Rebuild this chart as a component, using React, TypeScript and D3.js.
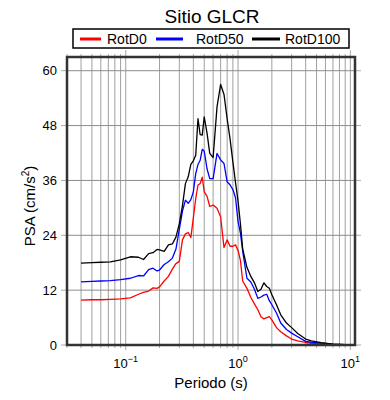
import React from 'react';
import * as d3 from 'd3';

// periodos (s) y ordenadas espectrales (cm/s2)
const periods = [
  0.04, 0.05, 0.06, 0.073, 0.09, 0.11, 0.13, 0.144, 0.16, 0.175, 0.19, 0.2, 0.22, 0.24, 0.26, 0.28,
  0.3, 0.32, 0.34, 0.36, 0.38, 0.4, 0.42, 0.44, 0.46, 0.48, 0.5, 0.53, 0.56, 0.6, 0.65, 0.7,
  0.75, 0.8, 0.85, 0.9, 0.95, 1.0, 1.05, 1.1, 1.2, 1.3, 1.4, 1.5, 1.6, 1.7, 1.8, 1.9,
  2.0, 2.2, 2.4, 2.7, 3.0, 3.4, 4.0, 4.5, 5.5, 7.0, 9.0, 10.7,
];
const rotD100 = [
  17.9, 18.0, 18.1, 18.2, 18.6, 19.3, 19.2, 18.7, 20.0, 20.2, 20.9, 20.8, 20.5, 21.9, 22.1, 23.6,
  26.5, 30.5, 35.3, 36.8, 39.5, 40.3, 41.5, 49.5, 46.0, 45.9, 49.9, 46.3, 41.9, 41.0, 52.1, 57.0,
  54.8, 49.5, 45.0, 40.0, 35.5, 31.5, 26.5, 21.0, 17.0, 15.0, 13.6, 11.7, 12.2, 13.6, 12.8, 12.4,
  11.0, 8.8, 6.6, 4.8, 3.8, 2.5, 1.3, 0.9, 0.5, 0.2, 0.08, 0.02,
];
const rotD50 = [
  13.8, 13.9, 14.0, 14.1, 14.3, 14.6, 15.2, 15.1, 16.5, 16.8, 16.2, 16.4, 17.6, 18.2, 19.0, 21.0,
  25.3, 29.3, 31.7, 31.0, 31.8, 33.5, 37.5, 39.5, 40.4, 42.8, 42.4, 38.5, 36.4, 36.4, 41.9, 40.5,
  39.7, 35.7, 35.0, 34.0, 32.2, 27.0, 24.5, 20.5, 14.6, 13.8, 12.2, 10.2, 10.5, 10.9, 11.1, 9.7,
  8.8, 7.0, 4.8, 3.4, 2.6, 1.8, 0.8, 0.6, 0.4, 0.18, 0.08, 0.02,
];
const rotD0 = [
  9.8, 9.9, 9.9, 10.0, 10.1, 10.3, 11.1, 11.5, 11.8, 12.5, 12.4, 12.7, 14.0, 15.0, 16.6, 17.8,
  18.3, 23.0, 24.3, 24.6, 23.5, 27.8, 32.0, 35.0, 35.3, 36.7, 33.5, 32.5, 30.3, 30.6, 29.9, 28.0,
  21.3, 23.0, 21.6, 21.6, 21.9, 20.7, 18.5, 14.0, 12.4, 10.4, 9.0, 7.7, 6.2, 5.7, 6.0, 6.2,
  5.5, 3.8, 2.9, 2.0, 1.3, 0.9, 0.55, 0.35, 0.25, 0.15, 0.05, 0.02,
];
const seriesNames = ['RotD0', 'RotD50', 'RotD100'];
const seriesColors = ['#ff0000', '#0000ff', '#000000'];
const yTicks = [0, 12, 24, 36, 48, 60];
const xMajor = [0.1, 1, 10];
const xMajorExp = ['\u22121', '0', '1'];

const W = 390;
const H = 400;
const margin = { top: 57, right: 35, bottom: 55, left: 67 };
const font = 'Liberation Sans, Arial, Helvetica, sans-serif';

const App: React.FC = () => {
  const x = d3.scaleLog().domain([0.03, 11]).range([margin.left, W - margin.right]);
  const y = d3.scaleLinear().domain([0, 63]).range([H - margin.bottom, margin.top]);
  const x0 = margin.left, x1 = W - margin.right, y0 = H - margin.bottom, y1 = margin.top;

  // rejilla menor: 2..9 por década
  const minor: number[] = [];
  [0.01, 0.1, 1].forEach(d => {
    for (let k = 1; k <= 9; k++) {
      const v = d * k;
      if (v >= 0.03 && v <= 11) minor.push(v);
    }
  });
  minor.push(10);

  const line = d3.line<number>()
    .x((_, i) => x(periods[i]))
    .y(d => y(d));
  const allSeries = [rotD0, rotD50, rotD100];

  return (
    <svg width={W} height={H} style={{ display: 'block', position: 'absolute', left: 0, top: 0, background: '#fff' }}
      fontFamily={font}>
      <text x={212} y={23} textAnchor="middle" fontSize={19} fill="#000">Sitio GLCR</text>

      {/* leyenda */}
      <rect x={73} y={29} width={276} height={19} fill="#fff" stroke="#000" strokeWidth={1.5} />
      {[[80, 101, 107], [156, 183, 196], [252, 280, 285]].map((p, i) => (
        <g key={seriesNames[i]}>
          <line x1={p[0]} x2={p[1]} y1={39} y2={39} stroke={seriesColors[i]} strokeWidth={3} />
          <text x={p[2]} y={44} fontSize={14} fill="#000">{seriesNames[i]}</text>
        </g>
      ))}

      {/* rejilla */}
      {minor.map(v => (
        <line key={'g' + v} x1={x(v)} x2={x(v)} y1={y1} y2={y0} stroke="#a0a0a0" strokeWidth={1} />
      ))}
      {yTicks.slice(1).map(t => (
        <line key={'h' + t} x1={x0} x2={x1} y1={y(t)} y2={y(t)} stroke="#8c8c8c" strokeWidth={1} />
      ))}

      {/* marcas exteriores */}
      {minor.map(v => {
        const major = xMajor.includes(v);
        return (
          <g key={'t' + v}>
            <line x1={x(v)} x2={x(v)} y1={y1} y2={y1 - (major ? 7 : 3)} stroke="#aaa" strokeWidth={1} />
            <line x1={x(v)} x2={x(v)} y1={y0} y2={y0 + (major ? 5 : 3)} stroke="#aaa" strokeWidth={1} />
          </g>
        );
      })}
      {yTicks.map(t => (
        <g key={'yt' + t}>
          <line x1={x0 - 6} x2={x0} y1={y(t)} y2={y(t)} stroke="#aaa" strokeWidth={1} />
          <line x1={x1} x2={x1 + 6} y1={y(t)} y2={y(t)} stroke="#aaa" strokeWidth={1} />
          <text x={57} y={y(t) + 4.5} textAnchor="end" fontSize={13} fill="#000">{t}</text>
        </g>
      ))}
      {xMajor.map((v, i) => (
        <text key={'xl' + v} x={x(v)} y={368} textAnchor="middle" fontSize={13} fill="#000">
          10<tspan fontSize={9} dy={-6}>{xMajorExp[i]}</tspan>
        </text>
      ))}

      {/* curvas */}
      {allSeries.map((s, i) => (
        <path key={seriesNames[i]} d={line(s) || ''} fill="none" stroke={seriesColors[i]}
          strokeWidth={1.3} strokeLinejoin="round" />
      ))}

      {/* marco */}
      <rect x={x0} y={y1} width={x1 - x0} height={y0 - y1} fill="none" stroke="#333" strokeWidth={2.5} />

      <text x={211} y={388} textAnchor="middle" fontSize={15} fill="#000">Periodo (s)</text>
      <text transform="translate(35,206) rotate(-90)" textAnchor="middle" fontSize={15} fill="#000">
        PSA (cm/s<tspan fontSize={10} dy={-6}>2</tspan><tspan dy={6}>)</tspan>
      </text>
    </svg>
  );
};

export default App;
